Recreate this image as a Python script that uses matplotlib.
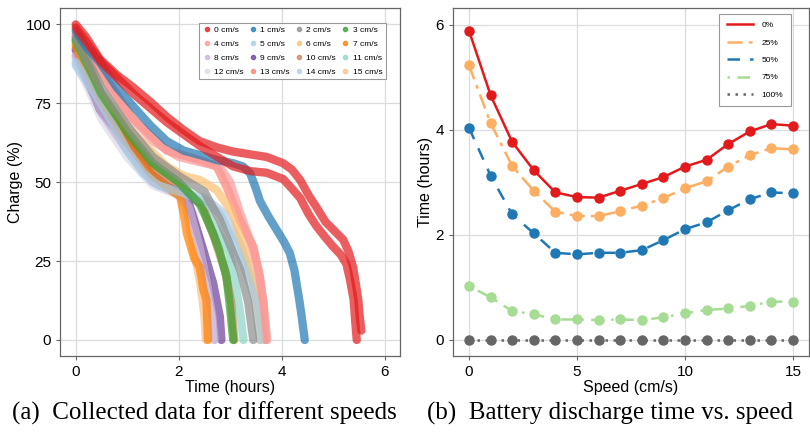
import matplotlib
matplotlib.use("Agg")
import matplotlib.pyplot as plt
from matplotlib.lines import Line2D

plt.rcParams['font.family'] = ['Liberation Sans', 'DejaVu Sans']

# ---- left panel: discharge curves (time h, charge %)
speeds = list(range(16))
speed_colors = ['#e31a1c', '#1f78b4', '#8c8c8c', '#33a02c',
                '#fb9a99', '#a6cee3', '#fdbf6f', '#ff7f00',
                '#cab2d6', '#6a3d9a', '#c8845a', '#8dd3c7',
                '#dadaeb', '#fb8072', '#b3cde3', '#fdc086']

t0 = [0, 0.2, 0.47, 0.8, 1.12, 1.45, 1.77, 2.1, 2.41, 2.75, 3.06, 3.4, 3.71, 4.03, 4.2, 4.36, 4.52, 4.68, 4.85, 5.0, 5.2, 5.3, 5.39, 5.45, 5.49, 5.52, 5.55]
c0 = [100, 96, 89, 84, 80, 75.5, 70.7, 66.5, 63, 61, 59.7, 58.8, 58, 56, 54, 50.7, 46, 42, 37.5, 35, 31.7, 28, 23, 17, 12.7, 7, 3]
t0b = [0, 0.5, 1.12, 1.77, 2.41, 2.75, 3.06, 3.4, 3.71, 4.03, 4.2, 4.36, 4.52, 4.68, 4.85, 5.0, 5.15, 5.26, 5.33, 5.4, 5.43, 5.46]
c0b = [99, 88, 78, 69, 61.5, 58, 55, 53.5, 53, 51, 48, 45, 40, 36, 32.5, 29.6, 27, 24, 19, 12.7, 6, 0]
t1 = [0, 0.2, 0.47, 0.8, 1.12, 1.45, 1.77, 2.1, 2.41, 2.75, 3.06, 3.25, 3.39, 3.5, 3.58, 3.75, 3.9, 4.05, 4.16, 4.25, 4.29, 4.35, 4.39, 4.45]
c1 = [98, 93, 88, 80, 74, 68, 63, 60, 58.6, 57, 56, 55, 52.8, 48, 44, 39, 35, 31, 27.5, 22, 18, 12, 7.4, 0]
t2 = [0, 0.5, 1.0, 1.5, 2.0, 2.5, 2.8, 3.0, 3.2, 3.35, 3.45]
c2 = [96, 80, 68, 58, 52, 47, 38, 30, 22, 12, 0]
t3 = [0, 0.5, 1.0, 1.5, 2.0, 2.41, 2.5, 2.67, 2.8, 2.93, 3.0, 3.06]
c3 = [95, 78, 66, 56, 50, 43, 40, 33.8, 28, 20, 10, 0]
t4 = [0, 0.5, 1.0, 1.5, 2.0, 2.5, 2.8, 3.0, 3.2, 3.4, 3.55, 3.65, 3.72]
c4 = [96, 84, 72, 63, 58, 56, 55, 50, 40, 31, 22, 12, 0]
t5 = [0, 0.3, 0.6, 1.0, 1.3, 1.6, 2.0, 2.5, 2.8, 3.1, 3.3, 3.5, 3.58]
c5 = [88, 80, 72, 60, 53, 49, 47, 44, 40, 30, 22, 12, 0]
t6 = [0, 0.47, 1.12, 1.77, 2.1, 2.41, 2.74, 3.06, 3.26, 3.45, 3.52, 3.58]
c6 = [95, 79, 65.5, 55, 52, 50.7, 47.5, 40, 29.6, 18, 8, 0]
t7 = [0, 0.5, 1.0, 1.5, 1.9, 2.03, 2.1, 2.16, 2.3, 2.41, 2.48, 2.54, 2.57]
c7 = [93, 76, 63, 52, 47, 45.4, 40, 33.8, 26, 23, 16, 12.7, 0]
t8 = [0, 0.5, 1.0, 1.5, 2.0, 2.2, 2.4, 2.55, 2.65, 2.7]
c8 = [90, 72, 60, 50, 46, 42, 30, 18, 8, 0]
t9 = [0, 0.47, 1.12, 1.44, 1.77, 2.16, 2.28, 2.48, 2.67, 2.8, 2.83]
c9 = [92, 73, 60, 52.8, 48.6, 45.4, 39, 28.5, 18, 7.4, 0]
t10 = [0, 0.5, 1.0, 1.5, 2.0, 2.45, 2.7, 2.9, 3.02, 3.08]
c10 = [94, 77, 65, 55, 49, 43, 32, 22, 12, 0]
t11 = [0, 0.5, 1.0, 1.5, 2.0, 2.5, 2.74, 2.98, 3.1, 3.2, 3.26]
c11 = [95, 78, 66, 56, 50, 42, 35, 28, 18, 8, 0]
t12 = [0, 0.5, 1.0, 1.5, 2.0, 2.3, 2.45, 2.6, 2.68]
c12 = [89, 70, 58, 49, 46, 40, 28, 15, 0]
t13 = [0, 0.5, 1.12, 1.77, 2.41, 2.74, 2.93, 3.19, 3.45, 3.58, 3.64, 3.7]
c13 = [97, 85, 70, 60, 57, 55, 48.6, 38, 29.6, 20, 12, 0]
t14 = [0, 0.5, 1.0, 1.5, 2.0, 2.5, 2.9, 3.2, 3.45, 3.6, 3.65]
c14 = [87, 74, 61, 50, 47, 45, 40, 30, 18, 5, 0]
t15 = [0, 0.47, 1.0, 1.5, 1.9, 2.1, 2.2, 2.3, 2.42, 2.5, 2.53]
c15 = [90, 76, 63, 53, 48, 45, 38, 28, 18, 8, 0]

times = [t0, t1, t2, t3, t4, t5, t6, t7, t8, t9, t10, t11, t12, t13, t14, t15]
charges = [c0, c1, c2, c3, c4, c5, c6, c7, c8, c9, c10, c11, c12, c13, c14, c15]

# ---- right panel: discharge time vs speed for each starting charge
speed_x = list(range(16))
levels = ['0%', '25%', '50%', '75%', '100%']
time_0 = [5.89, 4.66, 3.77, 3.23, 2.81, 2.72, 2.71, 2.84, 2.97, 3.10, 3.30, 3.43, 3.73, 3.97, 4.11, 4.08]
time_25 = [5.23, 4.13, 3.31, 2.84, 2.44, 2.36, 2.36, 2.45, 2.56, 2.70, 2.89, 3.02, 3.30, 3.52, 3.65, 3.63]
time_50 = [4.04, 3.13, 2.39, 2.03, 1.66, 1.63, 1.66, 1.66, 1.71, 1.90, 2.11, 2.24, 2.47, 2.68, 2.81, 2.79]
time_75 = [1.03, 0.81, 0.55, 0.49, 0.39, 0.39, 0.38, 0.39, 0.38, 0.43, 0.51, 0.57, 0.60, 0.65, 0.73, 0.73]
time_100 = [0] * 16
level_times = [time_0, time_25, time_50, time_75, time_100]
level_colors = ['#e31a1c', '#fdae61', '#1f78b4', '#a6dc93', '#666666']
level_styles = ['-', (0, (6, 2.5, 1.5, 2.5)), (0, (5, 4)), (0, (1, 3, 5, 3)), (0, (1, 2.2))]


def style_axes(ax):
    ax.grid(True, color='#dcdcdc', lw=0.9)
    ax.set_axisbelow(True)
    for s in ax.spines.values():
        s.set_color('#666666')
        s.set_linewidth(0.9)
    ax.tick_params(colors='#666666', labelcolor='black', labelsize=11, length=3, width=0.8)


fig = plt.figure(figsize=(8.1, 4.45), dpi=100)
ax1 = fig.add_axes([60 / 810, 89 / 445, 340 / 810, 348 / 445])
ax2 = fig.add_axes([453 / 810, 89 / 445, 356 / 810, 348 / 445])

# left: draw the short runs last-to-first so red/blue stay on top
for i in reversed(speeds):
    ax1.plot(times[i], charges[i], color=speed_colors[i], lw=6, alpha=0.7,
             solid_capstyle='round', solid_joinstyle='round')
ax1.plot(t0b, c0b, color=speed_colors[0], lw=6, alpha=0.7, solid_capstyle='round')

ax1.set_xlim(-0.305, 6.3)
ax1.set_ylim(-5.07, 105.2)
ax1.set_xticks([0, 2, 4, 6])
ax1.set_yticks([0, 25, 50, 75, 100])
ax1.set_xlabel('Time (hours)', fontsize=11.5, labelpad=1)
ax1.set_ylabel('Charge (%)', fontsize=11.5, labelpad=2)
style_axes(ax1)

handles = [Line2D([], [], ls='', marker='o', ms=3, color=speed_colors[i], alpha=0.75) for i in speeds]
labels = [f'{s} cm/s' for s in speeds]
# legend fills column-wise, reference reads row-wise
order = [c + 4 * r for c in range(4) for r in range(4)]
leg1 = ax1.legend([handles[k] for k in order], [labels[k] for k in order], ncol=4,
                  loc='upper right', bbox_to_anchor=(0.958, 0.958), borderaxespad=0,
                  fontsize=6, handlelength=1, handletextpad=0.4, columnspacing=0.6,
                  labelspacing=0.75, fancybox=False, edgecolor='#999999', framealpha=1)
leg1.get_frame().set_linewidth(0.8)

# right
for name, vals, col, ls in zip(levels, level_times, level_colors, level_styles):
    ax2.plot(speed_x, vals, color=col, ls=ls, lw=1.8, marker='o', ms=6.5, label=name)

ax2.set_xlim(-0.74, 15.74)
ax2.set_ylim(-0.305, 6.32)
ax2.set_xticks([0, 5, 10, 15])
ax2.set_yticks([0, 2, 4, 6])
ax2.set_xlabel('Speed (cm/s)', fontsize=11.5, labelpad=1)
ax2.set_ylabel('Time (hours)', fontsize=11.5, labelpad=2)
style_axes(ax2)

lh = [Line2D([], [], color=c, ls=s, lw=1.8) for c, s in zip(level_colors, level_styles)]
leg2 = ax2.legend(lh, levels, loc='upper right', bbox_to_anchor=(0.949, 0.983), borderaxespad=0,
                  fontsize=6, handlelength=3.2, handletextpad=1.0, labelspacing=1.15,
                  borderpad=0.9, fancybox=False, edgecolor='#999999', framealpha=1)
leg2.get_frame().set_linewidth(0.8)

fig.text(12 / 810, 1 - 413 / 445, '(a)  Collected data for different speeds',
         family='Liberation Serif', fontsize=18, va='center', ha='left')
fig.text(427 / 810, 1 - 413 / 445, '(b)  Battery discharge time vs. speed',
         family='Liberation Serif', fontsize=18, va='center', ha='left')

fig.savefig('out.png', dpi=100)
